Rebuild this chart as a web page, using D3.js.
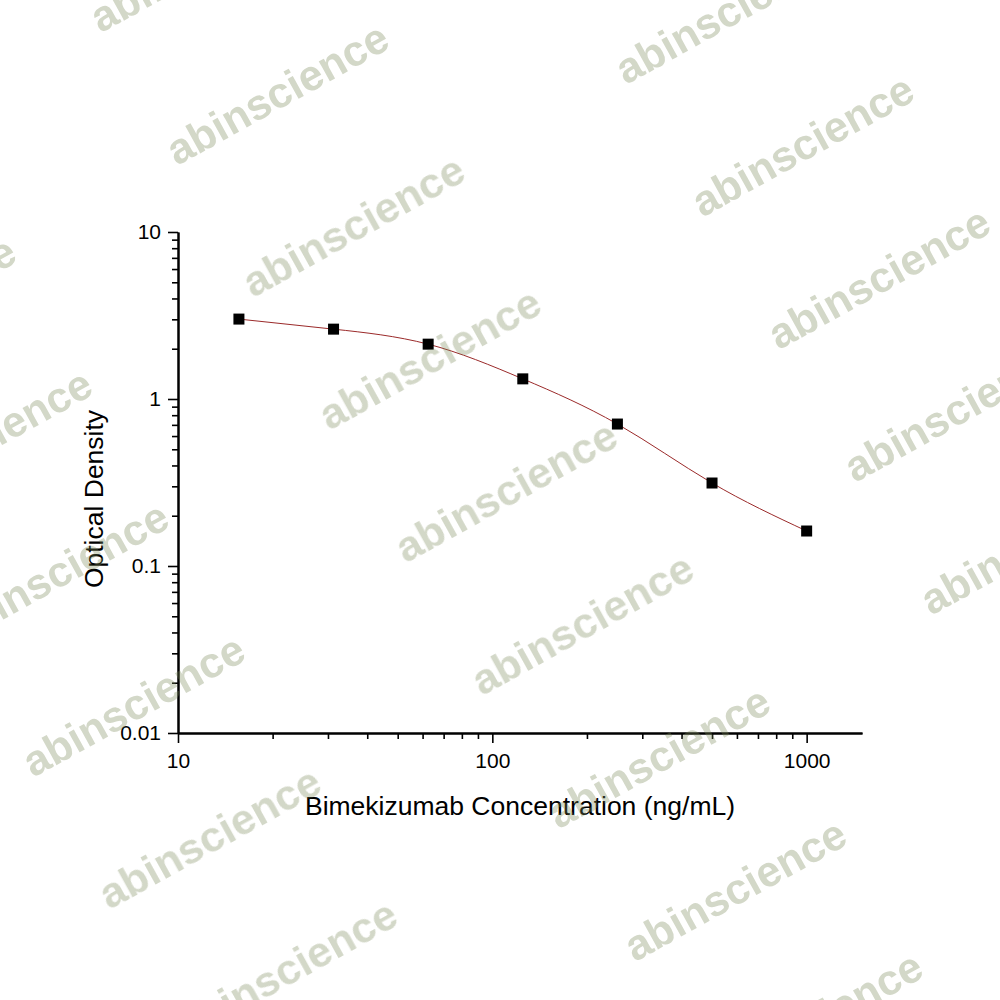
<!DOCTYPE html>
<html>
<head>
<meta charset="utf-8">
<script src="https://cdn.jsdelivr.net/npm/d3@7"></script>
<style>
  body { margin: 0; background: #fff; }
  text { font-family: "Liberation Sans", Arial, sans-serif; }
</style>
</head>
<body>
<div id="chart"></div>
<script>
// standard concentrations (ng/mL) and optical density
var concentration = [15.625, 31.25, 62.5, 125, 250, 500, 1000]
var od = [3.01, 2.62, 2.13, 1.32, 0.708, 0.314, 0.162]

var xTicks = [10, 100, 1000]
var xTickLabels = ["10", "100", "1000"]
var yTicks = [0.01, 0.1, 1, 10]
var yTickLabels = ["0.01", "0.1", "1", "10"]

var xTitle = "Bimekizumab Concentration (ng/mL)"
var yTitle = "Optical Density"
var watermark = "abinscience"

var margin = {top: 232, left: 178},
    width = 684,
    height = 501;

var svg = d3.select("#chart")
  .append("svg")
    .attr("width", 1000)
    .attr("height", 1000)

var g = svg.append("g")
    .attr("transform", "translate(" + margin.left + "," + margin.top + ")");

var x = d3.scaleLog()
  .domain([10, 1500])
  .range([0, width]);

var y = d3.scaleLog()
  .domain([0.01, 10])
  .range([height, 0]);

// minor ticks 2..9 in each decade
function minors(scale){
  var d = scale.domain(), out = []
  for (var p = Math.floor(Math.log10(d[0])); p < Math.ceil(Math.log10(d[1])); p++){
    for (var k = 2; k <= 9; k++){
      var v = k * Math.pow(10, p)
      if (v > d[0] && v < d[1]) out.push(+v.toPrecision(6))
    }
  }
  return out
}

// x axis
g.append("g")
  .attr("transform", "translate(0," + height + ")")
  .call(d3.axisBottom(x).tickValues(minors(x)).tickSize(6).tickSizeOuter(0).tickFormat(""));

var xa = g.append("g")
  .attr("transform", "translate(0," + height + ")")
  .call(d3.axisBottom(x).tickValues(xTicks).tickSize(10).tickSizeOuter(0)
    .tickFormat(function(d, i){ return xTickLabels[i] }));

xa.selectAll("text").attr("y", 35).attr("dy", 0);

// y axis
g.append("g")
  .call(d3.axisLeft(y).tickValues(minors(y)).tickSize(6).tickSizeOuter(0).tickFormat(""));

var ya = g.append("g")
  .call(d3.axisLeft(y).tickValues(yTicks).tickSize(10).tickSizeOuter(0)
    .tickFormat(function(d, i){ return yTickLabels[i] }));

ya.selectAll("text").attr("x", -17);

g.selectAll(".domain").attr("stroke", "#000").attr("stroke-width", 2);
g.selectAll(".tick line").attr("stroke", "#000").attr("stroke-width", 1.6);
g.selectAll(".tick text")
  .attr("fill", "#000")
  .style("font-size", "21px")
  .style("font-family", "'Liberation Sans', Arial, sans-serif");

// titles
svg.append("text")
  .attr("x", 520)
  .attr("y", 815)
  .attr("text-anchor", "middle")
  .style("font-size", "26.5px")
  .text(xTitle)

svg.append("text")
  .attr("transform", "translate(103,499) rotate(-90)")
  .attr("text-anchor", "middle")
  .style("font-size", "26.5px")
  .text(yTitle)

var pts = concentration.map(function(c, i){ return {c: c, od: od[i]} })

// fitted curve
g.append("path")
  .datum(pts)
  .attr("fill", "none")
  .attr("stroke", "#9b2a2a")
  .attr("stroke-width", 1)
  .attr("d", d3.line()
    .x(function(d){ return x(d.c) })
    .y(function(d){ return y(d.od) })
    .curve(d3.curveNatural))

// markers
var s = 11
g.selectAll(".pt")
  .data(pts)
  .enter().append("rect")
    .attr("class", "pt")
    .attr("x", function(d){ return x(d.c) - s / 2 })
    .attr("y", function(d){ return y(d.od) - s / 2 })
    .attr("width", s)
    .attr("height", s)
    .attr("fill", "#000")

// watermark tiles on top
var wm = svg.append("g").attr("opacity", 0.33)
for (var i = -4; i <= 10; i++){
  for (var j = -3; j <= 3; j++){
    var cx = 277 + i * 76.3 + j * 449
    var cy = 93 + i * 132.7 - j * 81
    if (cx < -200 || cx > 1200 || cy < -120 || cy > 1120) continue
    wm.append("text")
      .attr("transform", "translate(" + cx + "," + cy + ") rotate(-29)")
      .attr("text-anchor", "middle")
      .attr("dy", "0.36em")
      .attr("fill", "#7a8858")
      .style("font-size", "43px")
      .style("font-weight", "bold")
      .text(watermark)
  }
}
</script>
</body>
</html>
